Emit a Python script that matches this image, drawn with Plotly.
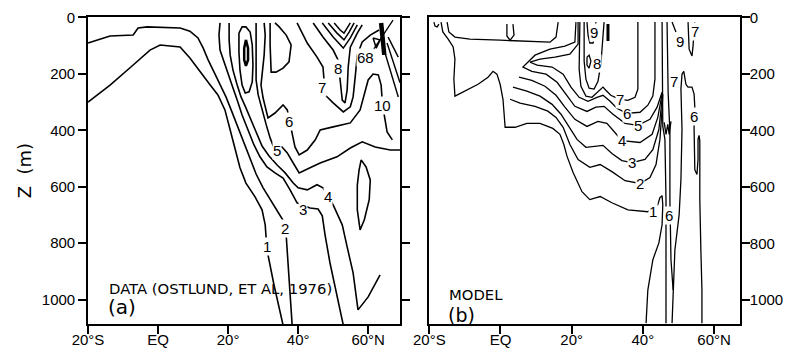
import plotly.graph_objects as go

# ---------------- Panel (a): DATA (Ostlund et al. 1976) ----------------
# contour polylines: latitude (deg, negative = S) and depth Z (m)
A1_LAT = [-20, -13.7, -7.1, -2.3, 0.6, 6.3, 9.1, 12.0, 14.9, 17.1, 19.1, 20.6, 22.0, 23.4, 25.1, 27.7, 29.7, 30.6, 30.9, 31.4, 33.1, 34.6, 35.7]
A1_Z = [300, 240, 169, 116, 98, 105, 144, 194, 240, 275, 328, 399, 470, 533, 587, 636, 682, 735, 788, 841, 947, 1036, 1090]
A2_LAT = [-20, -13.7, -7.1, -5.7, -3.1, 6.3, 9.1, 11.4, 12.9, 14.3, 16.0, 17.7, 19.4, 21.1, 22.9, 24.6, 26.3, 28.0, 30.0, 32.3, 34.3, 36.0, 36.6, 37.1, 37.7, 38.3]
A2_Z = [91, 66, 63, 38, 34, 38, 49, 73, 109, 151, 194, 240, 282, 335, 392, 452, 505, 555, 604, 650, 689, 725, 774, 859, 965, 1090]
A3_LAT = [17.7, 17.4, 17.7, 18.9, 20.3, 21.4, 22.6, 24.0, 25.7, 27.4, 29.1, 31.1, 33.4, 35.7, 37.7, 39.7, 43.4, 45.7, 46.9, 47.7, 49.1, 51.1, 52.9]
A3_Z = [20, 63, 116, 158, 204, 250, 293, 346, 399, 452, 494, 530, 551, 569, 611, 657, 675, 679, 703, 771, 870, 990, 1090]
A4_LAT = [20.3, 20.3, 20.6, 21.4, 22.6, 23.7, 25.1, 26.6, 28.0, 29.7, 31.7, 34.0, 36.3, 38.6, 40.0, 42.6, 45.4, 47.1, 50.0, 52.6, 54.0, 55.7, 57.1, 60.0, 63.4]
A4_Z = [20, 80, 134, 187, 240, 282, 321, 364, 410, 456, 491, 523, 551, 587, 604, 611, 593, 604, 664, 735, 813, 905, 1036, 990, 912]
A5_LAT = [28.0, 28.0, 28.0, 28.0, 28.6, 29.7, 30.9, 32.0, 32.9, 35.4, 36.9, 38.6, 40.3, 43.4, 46.3, 51.1, 54.9, 58.3, 62.0, 66.3, 69.1]
A5_Z = [20, 80, 151, 222, 275, 328, 381, 427, 456, 459, 480, 516, 551, 533, 516, 494, 463, 441, 459, 470, 470]
A6_LAT = [30.3, 30.6, 30.3, 29.7, 29.4, 30.0, 30.9, 31.4, 33.4, 35.7, 36.9, 38.3, 39.1, 40.3, 42.6, 44.9, 46.3, 50.0, 54.9, 57.7, 59.1, 60.0, 61.4, 62.9, 63.7, 64.0, 64.6, 65.4, 66.9]
A6_Z = [20, 63, 133, 194, 240, 286, 328, 356, 339, 310, 328, 409, 459, 487, 470, 434, 399, 388, 374, 328, 268, 222, 201, 204, 240, 293, 346, 406, 434]
A7_LAT = [39.7, 42.6, 45.4, 47.1, 47.4, 47.7, 50.0, 52.9, 54.9, 55.7, 56.3, 56.9, 58.3, 60.6, 63.1]
A7_Z = [20, 91, 141, 176, 222, 275, 303, 335, 317, 282, 211, 133, 87, 63, 45]
A8_LAT = [44.3, 47.1, 50.0, 51.4, 52.0, 52.6, 53.4, 54.0, 54.3, 54.9, 56.9, 58.3]
A8_Z = [20, 70, 116, 151, 222, 293, 303, 257, 176, 106, 56, 27]
A_V1_LAT = [46.9, 50.0, 52.9, 54.9, 56.9]
A_V1_Z = [20, 70, 109, 73, 27]
A_V2_LAT = [48.6, 51.1, 53.1, 54.6, 56.0]
A_V2_Z = [20, 56, 80, 52, 20]
A_V3_LAT = [50.3, 52.0, 53.1, 54.0, 54.9]
A_V3_Z = [20, 45, 56, 38, 20]
A_LOOP_LAT = [23.1, 24.0, 25.1, 26.3, 26.9, 27.1, 26.9, 26.0, 24.9, 24.0, 23.4, 23.1, 23.1]
A_LOOP_Z = [56, 34, 34, 52, 98, 169, 229, 264, 268, 240, 187, 123, 56]
A_CORE_LAT = [25.1, 25.7, 25.7, 25.1, 24.6, 24.6, 25.1]
A_CORE_Z = [80, 109, 151, 172, 151, 109, 80]
A_BOX_LAT = [32.0, 32.0, 32.3, 33.7, 35.7, 37.4, 38.0, 36.6, 34.6, 33.4]
A_BOX_Z = [20, 98, 194, 194, 180, 158, 98, 63, 34, 20]
A_ELL_LAT = [58.0, 59.4, 60.6, 60.3, 58.9, 57.7, 56.9, 56.9, 57.4, 58.0]
A_ELL_Z = [505, 530, 576, 646, 717, 753, 682, 594, 541, 505]
A_TRI_LAT = [61.4, 63.4, 62.3, 61.4]
A_TRI_Z = [73, 80, 109, 73]
A_BAR_LAT = [63.7, 64.6]
A_BAR_Z = [20, 133]
A_X_LAT = [61.4, 67.1]
A_X_Z = [116, 10]
A_F1_LAT = [64.3, 66.9, 68.6]
A_F1_Z = [105, 211, 282]
A_F2_LAT = [65.4, 67.7, 69.1]
A_F2_Z = [91, 176, 232]
A_F3_LAT = [65.7, 68.6]
A_F3_Z = [70, 141]

A_LABEL_TEXT = ["1", "2", "3", "4", "5", "6", "7", "8", "68", "10"]
A_LABEL_LAT = [31.1, 36.3, 41.4, 48.6, 34.0, 37.5, 46.9, 51.4, 59.1, 64.0]
A_LABEL_Z = [813, 749, 682, 633, 470, 370, 250, 180, 141, 313]

# ---------------- Panel (b): MODEL ----------------
B1_LAT = [-16.7, -16.2, -14.7, -13.3, -12.8, -13.1, -12.8, -10.0, -6.3, -3.5, -2.1, -1.0, -0.1, 0.7, 1.3, 4.1, 7.4, 11.1, 14.7, 16.7, 17.8, 18.7, 20.4, 22.9, 25.1, 28.0, 31.3, 35.8, 41.4, 44.2, 44.8, 45.4, 45.6, 45.4, 44.5, 42.8, 41.4, 40.9]
B1_Z = [17, 52, 77, 105, 148, 219, 279, 261, 237, 212, 191, 201, 237, 290, 389, 389, 375, 375, 393, 414, 450, 492, 549, 617, 645, 634, 656, 681, 688, 663, 638, 631, 663, 734, 798, 858, 965, 1082]
BX_LAT = [-15.0, -14.5, -12.8, -8.6, -0.1, 8.3, 13.9, 15.6, 16.2]
BX_Z = [17, 52, 70, 77, 81, 84, 88, 70, 17]
B2_LAT = [2.7, 5.5, 9.7, 13.3, 15.6, 17.6, 19.5, 21.8, 25.1, 28.0, 31.3, 35.0, 39.2, 42.0, 43.7, 44.8, 45.4, 45.6]
B2_Z = [290, 304, 315, 332, 354, 389, 450, 503, 531, 521, 546, 578, 588, 567, 521, 432, 326, 272]
B3_LAT = [3.5, 7.4, 11.1, 14.5, 17.0, 19.2, 21.5, 24.0, 26.5, 28.8, 31.3, 34.1, 36.9, 40.6, 42.8, 44.5, 45.4]
B3_Z = [247, 261, 279, 308, 343, 389, 432, 460, 457, 453, 482, 507, 514, 503, 468, 397, 290]
B4_LAT = [5.2, 8.8, 12.5, 15.6, 18.1, 20.9, 24.3, 27.4, 29.9, 32.2, 34.1, 39.2, 42.6, 44.2, 45.4]
B4_Z = [212, 223, 244, 276, 318, 361, 386, 368, 375, 407, 436, 443, 414, 354, 272]
B5_LAT = [21.2, 20.9, 18.1, 13.9, 9.7, 6.3, 8.8, 12.8, 15.9, 18.4, 20.9, 24.3, 26.8, 29.1, 31.6, 35.0, 38.6, 42.0, 44.0, 45.4]
B5_Z = [17, 88, 102, 113, 134, 176, 191, 201, 230, 272, 315, 333, 318, 315, 343, 375, 382, 361, 318, 265]
B6_LAT = [21.8, 21.8, 19.5, 15.3, 11.1, 8.3, 10.3, 14.5, 17.6, 19.8, 22.1, 24.6, 27.1, 28.8, 30.8, 32.7, 35.5, 39.2, 41.4, 42.8, 43.4, 43.4, 43.4]
B6_Z = [17, 95, 130, 141, 148, 159, 169, 176, 201, 247, 283, 297, 283, 276, 297, 322, 340, 336, 311, 279, 219, 113, 17]
B7_LAT = [22.3, 22.1, 22.1, 22.6, 24.0, 25.7, 27.4, 28.8, 29.6, 31.0, 32.7, 33.6, 35.8, 37.8, 38.6, 38.6, 38.6]
B7_Z = [17, 113, 184, 244, 279, 283, 265, 247, 258, 276, 286, 290, 294, 283, 254, 148, 17]
B8_LAT = [23.5, 23.5, 23.5, 24.0, 24.9, 26.3, 27.4, 28.2, 28.8, 29.1]
B8_Z = [17, 95, 155, 219, 251, 254, 226, 166, 77, 17]
B8_CORE_LAT = [24.3, 24.9, 25.4, 24.9, 24.3, 24.3]
B8_CORE_Z = [141, 134, 155, 180, 169, 141]
B9_LAT = [24.3, 24.6, 25.1, 26.0, 26.5, 26.8]
B9_Z = [17, 63, 91, 91, 63, 17]
B_BAR_LAT = [30.2, 30.2]
B_BAR_Z = [24, 84]
B_EQLOOP_LAT = [1.8, 1.8, 2.7, 3.8, 3.5]
B_EQLOOP_Z = [24, 66, 81, 63, 24]
B_U_LAT = [-18.7, -18.4, -17.8, -17.3]
B_U_Z = [17, 31, 34, 24]
B_VA_LAT = [45.4, 45.4, 45.6, 45.6, 46.2, 46.5, 46.5]
B_VA_Z = [17, 148, 265, 386, 432, 645, 1082]
B_VB_LAT = [46.8, 47.1, 47.6, 47.6, 47.9, 48.5]
B_VB_Z = [17, 265, 407, 645, 858, 965]
B_ZIG_LAT = [46.0, 46.5, 47.0, 47.4, 47.9]
B_ZIG_Z = [372, 414, 379, 414, 368]
B6R_LAT = [48.2, 48.5, 49.0, 50.2, 50.7, 51.0, 50.7, 51.0, 51.5, 52.1, 52.7, 53.8, 54.4, 54.6, 54.4, 54.4, 54.4, 54.6, 55.2, 55.5, 55.5, 55.8, 56.0, 56.0, 56.3, 56.6, 56.6]
B6R_Z = [1082, 965, 823, 698, 574, 397, 254, 201, 191, 237, 247, 247, 272, 318, 350, 397, 468, 539, 556, 503, 432, 418, 439, 645, 823, 965, 1082]
B9R_LAT = [48.2, 49.3]
B9R_Z = [17, 52]
B7R_LAT = [52.7, 53.0, 53.8, 54.1, 54.6]
B7R_Z = [17, 113, 137, 102, 17]

B_LABEL_TEXT = ["1", "2", "3", "4", "5", "6", "7", "8", "9", "9", "7", "7", "6", "6"]
B_LABEL_LAT = [42.8, 39.2, 36.9, 34.1, 38.6, 35.5, 33.6, 27.1, 26.3, 50.4, 54.6, 48.8, 54.4, 47.4]
B_LABEL_Z = [688, 588, 514, 436, 382, 340, 290, 162, 55, 84, 52, 226, 350, 702]

LAT_TICKS = [-20, 0, 20, 40, 60]
LAT_TICK_TEXT = ["20°S", "EQ", "20°", "40°", "60°N"]
Z_TICKS = [0, 200, 400, 600, 800, 1000]

A_LINES = [(A1_LAT, A1_Z, 1.6), (A2_LAT, A2_Z, 1.6), (A3_LAT, A3_Z, 1.6), (A4_LAT, A4_Z, 1.6),
           (A5_LAT, A5_Z, 1.6), (A6_LAT, A6_Z, 1.6), (A7_LAT, A7_Z, 1.6), (A8_LAT, A8_Z, 1.6),
           (A_V1_LAT, A_V1_Z, 1.5), (A_V2_LAT, A_V2_Z, 1.5), (A_V3_LAT, A_V3_Z, 1.5),
           (A_LOOP_LAT, A_LOOP_Z, 1.6), (A_CORE_LAT, A_CORE_Z, 2.5), (A_BOX_LAT, A_BOX_Z, 1.6),
           (A_ELL_LAT, A_ELL_Z, 1.6), (A_TRI_LAT, A_TRI_Z, 1.5), (A_BAR_LAT, A_BAR_Z, 4.5),
           (A_X_LAT, A_X_Z, 1.3), (A_F1_LAT, A_F1_Z, 1.4), (A_F2_LAT, A_F2_Z, 1.4), (A_F3_LAT, A_F3_Z, 1.4)]
B_LINES = [(B1_LAT, B1_Z, 1.3), (BX_LAT, BX_Z, 1.3), (B2_LAT, B2_Z, 1.3), (B3_LAT, B3_Z, 1.3),
           (B4_LAT, B4_Z, 1.3), (B5_LAT, B5_Z, 1.3), (B6_LAT, B6_Z, 1.3), (B7_LAT, B7_Z, 1.3),
           (B8_LAT, B8_Z, 1.3), (B8_CORE_LAT, B8_CORE_Z, 1.3), (B9_LAT, B9_Z, 1.3),
           (B_BAR_LAT, B_BAR_Z, 3), (B_EQLOOP_LAT, B_EQLOOP_Z, 1.3), (B_U_LAT, B_U_Z, 1.3),
           (B_VA_LAT, B_VA_Z, 1.3), (B_VB_LAT, B_VB_Z, 1.3), (B_ZIG_LAT, B_ZIG_Z, 1.3),
           (B6R_LAT, B6R_Z, 1.3), (B9R_LAT, B9R_Z, 1.3), (B7R_LAT, B7R_Z, 1.3)]

fig = go.Figure()
for lat, z, w in A_LINES:
    fig.add_trace(go.Scatter(x=lat, y=z, mode="lines", line=dict(color="black", width=w),
                             xaxis="x", yaxis="y", showlegend=False, hoverinfo="skip"))
for lat, z, w in B_LINES:
    fig.add_trace(go.Scatter(x=lat, y=z, mode="lines", line=dict(color="black", width=w),
                             xaxis="x2", yaxis="y2", showlegend=False, hoverinfo="skip"))

LABEL_FONT = dict(family="Liberation Sans Narrow, Arial Narrow, sans-serif", size=15, color="black")
annotations = []
for t, la, z in zip(A_LABEL_TEXT, A_LABEL_LAT, A_LABEL_Z):
    annotations.append(dict(x=la, y=z, xref="x", yref="y", text=t, showarrow=False,
                            font=LABEL_FONT, bgcolor="white", borderpad=0))
for t, la, z in zip(B_LABEL_TEXT, B_LABEL_LAT, B_LABEL_Z):
    annotations.append(dict(x=la, y=z, xref="x2", yref="y2", text=t, showarrow=False,
                            font=LABEL_FONT, bgcolor="white", borderpad=0))

TXT = dict(family="DejaVu Sans, sans-serif", color="black")
annotations += [
    dict(x=-14.6, y=962, xref="x", yref="y", text="DATA (OSTLUND, ET AL, 1976)", showarrow=False,
         xanchor="left", yanchor="middle", font=dict(size=14.8, **TXT)),
    dict(x=-14.8, y=1026, xref="x", yref="y", text="(a)", showarrow=False,
         xanchor="left", yanchor="middle", font=dict(size=20, **TXT)),
    dict(x=-15.0, y=982, xref="x2", yref="y2", text="MODEL", showarrow=False,
         xanchor="left", yanchor="middle", font=dict(size=14.8, **TXT)),
    dict(x=-15.2, y=1052, xref="x2", yref="y2", text="(b)", showarrow=False,
         xanchor="left", yanchor="middle", font=dict(size=19, **TXT)),
]

TICKFONT = dict(family="Liberation Sans, Arial, sans-serif", size=15, color="black")
xcommon = dict(tickvals=LAT_TICKS, ticktext=LAT_TICK_TEXT, ticks="outside", ticklen=8, tickwidth=1.5,
               tickcolor="black", showline=True, linewidth=1.6, linecolor="black", mirror=True,
               showgrid=False, zeroline=False, tickfont=TICKFONT, fixedrange=True, automargin=False,
               ticklabelstandoff=-7)
ycommon = dict(tickvals=Z_TICKS, ticks="outside", ticklen=8, tickwidth=1.5, tickcolor="black",
               showline=True, linewidth=1.6, linecolor="black", showgrid=False, zeroline=False,
               tickfont=TICKFONT, fixedrange=True, automargin=False)

fig.update_layout(
    width=785, height=350,
    margin=dict(l=0, r=0, t=0, b=0, autoexpand=False),
    paper_bgcolor="white", plot_bgcolor="white",
    xaxis=dict(domain=[0.1121, 0.5096], range=[-20, 69.1], anchor="y", **xcommon),
    yaxis=dict(domain=[0.0743, 0.9506], range=[1086, 0], anchor="x", mirror="allticks",
               title=dict(text="Z  (m)", font=dict(family="DejaVu Sans, sans-serif", size=18, color="black"),
                          standoff=6), **ycommon),
    xaxis2=dict(domain=[0.5469, 0.9427], range=[-20, 67.3], anchor="y2", side="bottom", **xcommon),
    yaxis2=dict(domain=[0.0743, 0.9506], range=[1085, 0], anchor="x2", side="right", mirror=True,
                ticklabelstandoff=-3, **ycommon),
    annotations=annotations,
    showlegend=False,
)

fig.write_html("out.html", config={"displayModeBar": False},
               post_script="document.body.style.margin='0';document.body.style.padding='0';")
